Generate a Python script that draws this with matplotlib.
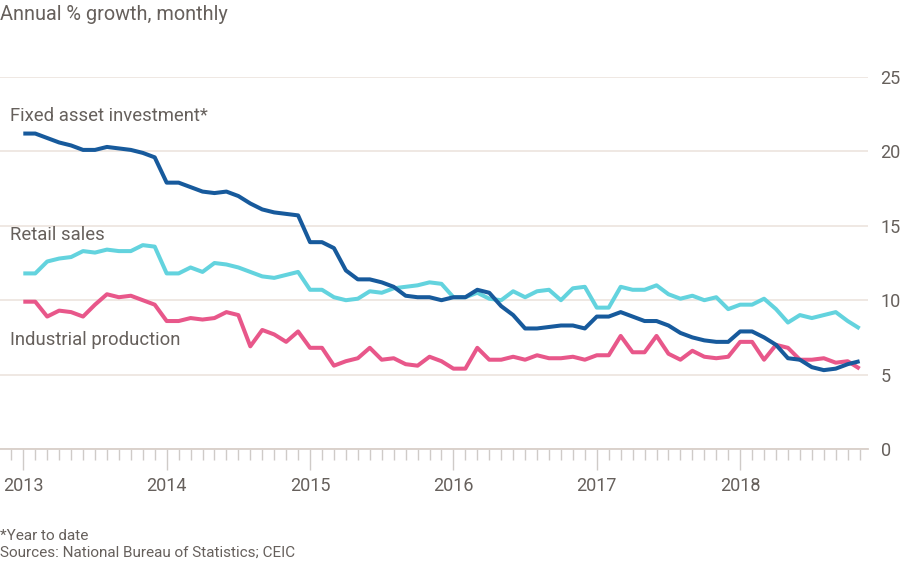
import matplotlib
matplotlib.use("Agg")
import matplotlib.pyplot as plt
from matplotlib.ticker import FixedLocator, MultipleLocator

plt.rcParams['font.family'] = ['Roboto', 'DejaVu Sans']

# Monthly data, Jan 2013 .. Nov 2018 (Jan shown equal to Jan-Feb figure)
fixed_asset = [
    21.2, 21.2, 20.9, 20.6, 20.4, 20.1, 20.1, 20.3, 20.2, 20.1, 19.9, 19.6,
    17.9, 17.9, 17.6, 17.3, 17.2, 17.3, 17.0, 16.5, 16.1, 15.9, 15.8, 15.7,
    13.9, 13.9, 13.5, 12.0, 11.4, 11.4, 11.2, 10.9, 10.3, 10.2, 10.2, 10.0,
    10.2, 10.2, 10.7, 10.5, 9.6, 9.0, 8.1, 8.1, 8.2, 8.3, 8.3, 8.1,
    8.9, 8.9, 9.2, 8.9, 8.6, 8.6, 8.3, 7.8, 7.5, 7.3, 7.2, 7.2,
    7.9, 7.9, 7.5, 7.0, 6.1, 6.0, 5.5, 5.3, 5.4, 5.7, 5.9,
]
retail_sales = [
    11.8, 11.8, 12.6, 12.8, 12.9, 13.3, 13.2, 13.4, 13.3, 13.3, 13.7, 13.6,
    11.8, 11.8, 12.2, 11.9, 12.5, 12.4, 12.2, 11.9, 11.6, 11.5, 11.7, 11.9,
    10.7, 10.7, 10.2, 10.0, 10.1, 10.6, 10.5, 10.8, 10.9, 11.0, 11.2, 11.1,
    10.2, 10.2, 10.5, 10.1, 10.0, 10.6, 10.2, 10.6, 10.7, 10.0, 10.8, 10.9,
    9.5, 9.5, 10.9, 10.7, 10.7, 11.0, 10.4, 10.1, 10.3, 10.0, 10.2, 9.4,
    9.7, 9.7, 10.1, 9.4, 8.5, 9.0, 8.8, 9.0, 9.2, 8.6, 8.1,
]
industrial_production = [
    9.9, 9.9, 8.9, 9.3, 9.2, 8.9, 9.7, 10.4, 10.2, 10.3, 10.0, 9.7,
    8.6, 8.6, 8.8, 8.7, 8.8, 9.2, 9.0, 6.9, 8.0, 7.7, 7.2, 7.9,
    6.8, 6.8, 5.6, 5.9, 6.1, 6.8, 6.0, 6.1, 5.7, 5.6, 6.2, 5.9,
    5.4, 5.4, 6.8, 6.0, 6.0, 6.2, 6.0, 6.3, 6.1, 6.1, 6.2, 6.0,
    6.3, 6.3, 7.6, 6.5, 6.5, 7.6, 6.4, 6.0, 6.6, 6.2, 6.1, 6.2,
    7.2, 7.2, 6.0, 7.0, 6.8, 6.0, 6.0, 6.1, 5.8, 5.9, 5.4,
]
year_labels = ["2013", "2014", "2015", "2016", "2017", "2018"]
y_ticks = [0, 5, 10, 15, 20, 25]

series_names = ["Fixed asset investment*", "Retail sales", "Industrial production"]
colors = ["#175a9c", "#63d3de", "#e8578a"]

TEXT = "#66605c"
GRID = "#ebe2db"
AXIS = "#d8cfc9"
TICK = "#cfcbc8"

months = list(range(len(fixed_asset)))

fig = plt.figure(figsize=(9, 5.67), dpi=100)
ax = fig.add_axes([0.0, 1 - 449 / 567, 868 / 900, (449 - 77) / 567])

for vals, c in zip([retail_sales, industrial_production, fixed_asset],
                   [colors[1], colors[2], colors[0]]):
    ax.plot(months, vals, color=c, lw=2.9, solid_joinstyle='round',
            solid_capstyle='butt', zorder=3)

ax.set_ylim(0, 25)
ax.set_xlim(-1.95, 70.7)

ax.yaxis.set_major_locator(FixedLocator(y_ticks))
ax.grid(axis='y', color=GRID, lw=1.1, zorder=1)
ax.yaxis.tick_right()
ax.tick_params(axis='y', length=0, pad=9, labelsize=13, labelcolor=TEXT)
ax.set_yticklabels([str(v) for v in y_ticks])

ax.xaxis.set_major_locator(FixedLocator([12 * i for i in range(len(year_labels))]))
ax.xaxis.set_minor_locator(MultipleLocator(1))
ax.set_xticklabels(year_labels)
ax.tick_params(axis='x', which='major', length=15, width=1, color=TICK,
               labelsize=13, labelcolor=TEXT, pad=5)
ax.tick_params(axis='x', which='minor', length=8, width=1, color=TICK)

for s in ['top', 'left', 'right']:
    ax.spines[s].set_visible(False)
ax.spines['bottom'].set_color(AXIS)
ax.spines['bottom'].set_linewidth(1.3)
ax.set_facecolor('white')

# Series labels
label_y = [116, 235, 340]
for name, yp in zip(series_names, label_y):
    fig.text(10 / 900, 1 - yp / 567, name, color=TEXT, fontsize=13.3,
             ha='left', va='center')

fig.text(0, 1 - 15 / 567, "Annual % growth, monthly", color=TEXT,
         fontsize=14.3, ha='left', va='center')
fig.text(0, 1 - 536 / 567, "*Year to date", color=TEXT, fontsize=11,
         ha='left', va='center')
fig.text(0, 1 - 553 / 567, "Sources: National Bureau of Statistics; CEIC",
         color=TEXT, fontsize=11, ha='left', va='center')

fig.savefig("out.png", dpi=100, facecolor='white')
